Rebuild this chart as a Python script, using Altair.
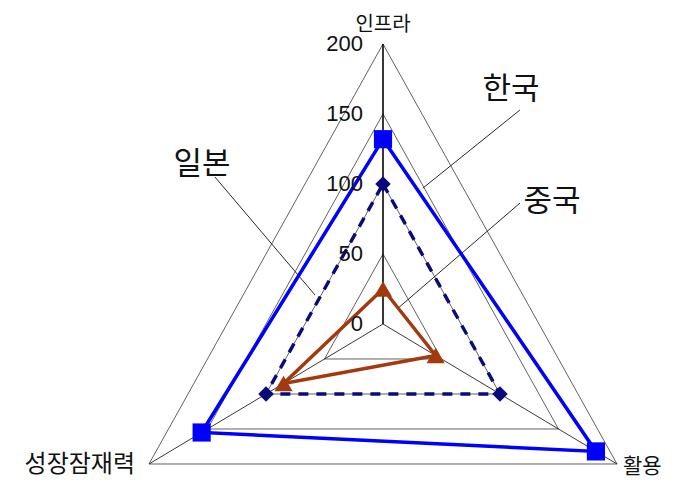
import altair as alt
import pandas as pd

# ---- data ----
categories = ["인프라", "활용", "성장잠재력"]
series_names = ["한국", "일본", "중국"]
korea = [132, 182, 155]
japan = [100, 100, 100]
china = [25, 45, 85]
levels = [0, 50, 100, 150, 200]
tick_labels = ["0", "50", "100", "150", "200"]

# annotation (label + leader line) positions in chart units
label_x = [94.7, -134.0, 125.1]
label_y = [167.1, 113.6, 87.1]
leader_x1 = [101.4, -124.4, 101.4]
leader_y1 = [152.9, 105.0, 86.4]
leader_x2 = [29.6, -50.3, 10.4]
leader_y2 = [97.1, 20.7, 10.7]

# ---- tables ----
vals = {"한국": korea, "일본": japan, "중국": china}
rows = []
for s in series_names:
    for i in range(4):
        k = i % 3
        rows.append({"series": s, "ord": i, "idx": k, "cat": categories[k], "r": vals[s][k]})
sdf = pd.DataFrame(rows)

grows = []
for lv in levels[1:]:
    for i in range(4):
        grows.append({"level": lv, "ord": i, "idx": i % 3, "r": lv})
gdf = pd.DataFrame(grows)

sprows = []
for k, c in enumerate(categories):
    sprows.append({"cat": c, "idx": k, "r": 0, "ord": 0})
    sprows.append({"cat": c, "idx": k, "r": levels[-1], "ord": 1})
spdf = pd.DataFrame(sprows)

catdf = pd.DataFrame({"cat": categories, "idx": [0, 1, 2], "r": [levels[-1]] * 3})
tickdf = pd.DataFrame({"r": levels, "label": tick_labels})

labdf = pd.DataFrame({"series": series_names, "x": label_x, "y": label_y})
leadrows = []
for j, s in enumerate(series_names):
    leadrows.append({"series": s, "ord": 0, "x": leader_x1[j], "y": leader_y1[j]})
    leadrows.append({"series": s, "ord": 1, "x": leader_x2[j], "y": leader_y2[j]})
leaddf = pd.DataFrame(leadrows)

# ---- scales ----
xs = alt.Scale(domain=[-277.57, 212.44], nice=False, zero=False)
ys = alt.Scale(domain=[-111.43, 225.71], nice=False, zero=False)

def polar(ch):
    return ch.transform_calculate(
        x="datum.r * sin(datum.idx * 2 * PI / 3)",
        y="datum.r * cos(datum.idx * 2 * PI / 3)",
    )

X = alt.X("x:Q", scale=xs, axis=None)
Y = alt.Y("y:Q", scale=ys, axis=None)

grid = polar(alt.Chart(gdf).mark_line(color="#3a3a3a", strokeWidth=0.8)).encode(
    x=X, y=Y, detail="level:N", order="ord:Q"
)
spokes = polar(alt.Chart(spdf).mark_line(color="#222222", strokeWidth=0.9)).encode(
    x=X, y=Y, detail="cat:N", order="ord:Q"
)
top_spoke = polar(
    alt.Chart(spdf).transform_filter("datum.idx == 0").mark_line(color="#000000", strokeWidth=1.3)
).encode(x=X, y=Y, order="ord:Q")

leaders = alt.Chart(leaddf).mark_line(color="#111111", strokeWidth=0.9).encode(
    x=X, y=Y, detail="series:N", order="ord:Q"
)

def series_layer(name, color, shape, size, dash=None, width=3.5):
    base = polar(alt.Chart(sdf).transform_filter(alt.datum.series == name))
    line_kwargs = dict(color=color, strokeWidth=width, strokeJoin="miter")
    if dash:
        line_kwargs["strokeDash"] = dash
    ln = base.mark_line(**line_kwargs).encode(x=X, y=Y, order="ord:Q")
    pt = base.transform_filter("datum.ord < 3").mark_point(
        shape=shape, size=size, filled=True, color=color, opacity=1
    ).encode(x=X, y=Y)
    return ln + pt

china_l = series_layer("중국", "#a33a0e", "triangle-up", 330)
japan_l = series_layer("일본", "#0a0a7a", "diamond", 240, dash=[10, 8], width=3.4)
korea_l = series_layer("한국", "#0000ff", "square", 330)

ticks = alt.Chart(tickdf).transform_calculate(x="0", y="datum.r").mark_text(
    align="right", baseline="middle", dx=-20, fontSize=22, font="Liberation Sans", color="#111111"
).encode(x=X, y=Y, text="label:N")

kfont = "Noto Sans CJK KR"
cat_top = polar(alt.Chart(catdf).transform_filter("datum.idx == 0")).mark_text(
    align="center", baseline="middle", dy=-19, fontSize=20, font=kfont, color="#111111"
).encode(x=X, y=Y, text="cat:N")
cat_right = polar(alt.Chart(catdf).transform_filter("datum.idx == 1")).mark_text(
    align="left", baseline="middle", dx=6, dy=3, fontSize=21, font=kfont, color="#111111"
).encode(x=X, y=Y, text="cat:N")
cat_left = polar(alt.Chart(catdf).transform_filter("datum.idx == 2")).mark_text(
    align="right", baseline="middle", dx=-14, dy=1, fontSize=24, font=kfont, color="#111111"
).encode(x=X, y=Y, text="cat:N")

series_labels = alt.Chart(labdf).mark_text(
    align="center", baseline="middle", fontSize=31, font=kfont, color="#111111"
).encode(x=X, y=Y, text="series:N")

chart = alt.layer(
    grid, spokes, top_spoke, leaders, japan_l, china_l, korea_l,
    ticks, cat_top, cat_right, cat_left, series_labels
).properties(
    width=662, height=472, autosize=alt.AutoSizeParams(type="none"), padding=0,
    background="white"
).configure_view(stroke=None)

chart.save("out.html", embed_options={"renderer": "svg", "actions": False})
